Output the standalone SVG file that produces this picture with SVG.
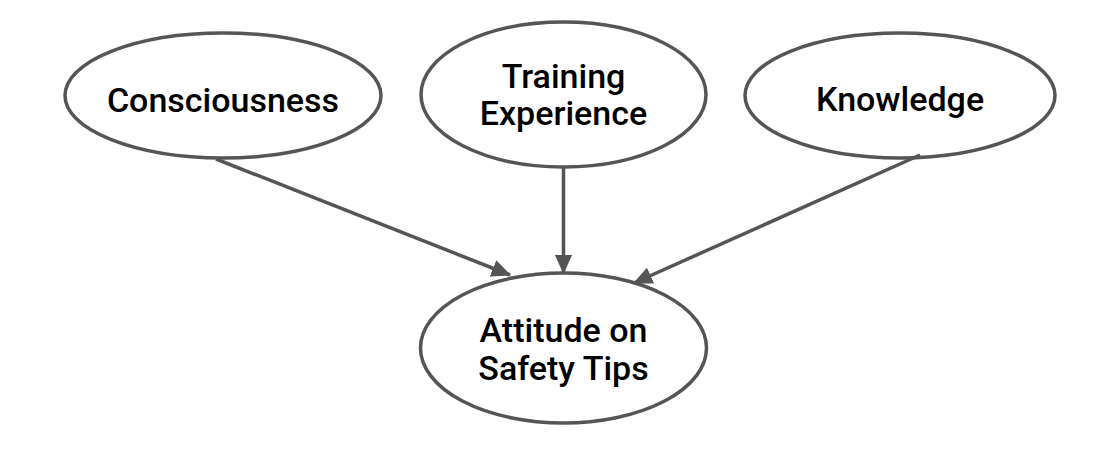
<svg xmlns="http://www.w3.org/2000/svg" width="1102" height="450" viewBox="0 0 1102 450">
<style>
.node ellipse{fill:#fff;stroke:#555;stroke-width:3.5}
.node text{font-family:Roboto,"Liberation Sans",Arial,sans-serif;font-size:34px;font-weight:500;fill:#000;text-anchor:middle}
.edge{stroke:#555;stroke-width:3.5;fill:none;marker-end:url(#ah)}
</style>
<defs>
<marker id="ah" markerWidth="6" markerHeight="5" refX="5.2" refY="2.5" orient="auto" markerUnits="strokeWidth">
<path d="M0,0 L5.5,2.5 L0,5 Z" fill="#555"/>
</marker>
</defs>
<rect width="1102" height="450" fill="#fff"/>
<g id="n-consciousness" class="node">
<ellipse cx="223" cy="95.5" rx="158" ry="62.5"/>
<text x="223" y="112">Consciousness</text>
</g>
<g id="n-training" class="node">
<ellipse cx="563.5" cy="94.5" rx="142.5" ry="72.5"/>
<text x="563.5" y="88">Training</text>
<text x="563.5" y="125">Experience</text>
</g>
<g id="n-knowledge" class="node">
<ellipse cx="900" cy="95.5" rx="155" ry="62.5"/>
<text x="900" y="111">Knowledge</text>
</g>
<g id="n-attitude" class="node">
<ellipse cx="563.5" cy="348" rx="143" ry="75"/>
<text x="563.5" y="342">Attitude on</text>
<text x="563.5" y="380">Safety Tips</text>
</g>
<g id="edges">
<line class="edge" x1="216" y1="159" x2="510" y2="275"/>
<line class="edge" x1="563.5" y1="168" x2="563.5" y2="273"/>
<line class="edge" x1="920" y1="155" x2="634" y2="283"/>
</g>
</svg>
